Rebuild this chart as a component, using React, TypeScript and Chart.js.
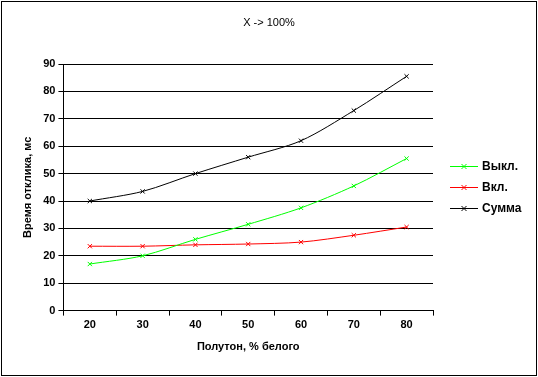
import React, { useEffect, useRef } from "react";
import { Chart, registerables } from "chart.js";

Chart.register(...registerables);

const categories = ["20", "30", "40", "50", "60", "70", "80"];
const seriesOff = [17, 20, 26, 31.5, 37.5, 45.5, 55.5];
const seriesOn = [23.5, 23.5, 24, 24.3, 25, 27.5, 30.5];
const seriesSum = [40, 43.5, 50, 56, 62, 73, 85.5];
const labels = ["Выкл.", "Вкл.", "Сумма"];
const colors = ["#00ff00", "#ff0000", "#000000"];
const yTicks = [0, 10, 20, 30, 40, 50, 60, 70, 80, 90];
const chartTitle = "X -> 100%";

const FONT = "'Liberation Sans', Arial, sans-serif";

export default function App() {
  const ref = useRef<HTMLCanvasElement>(null);
  useEffect(() => {
    document.body.style.margin = "0";
    const canvas = ref.current!;
    const borderPlugin = {
      id: "frame",
      beforeDraw(chart: any) {
        const ctx = chart.ctx;
        ctx.save();
        ctx.fillStyle = "#fff";
        ctx.fillRect(0, 0, chart.width, chart.height);
        ctx.restore();
      },
      afterDraw(chart: any) {
        const ctx = chart.ctx;
        ctx.save();
        ctx.strokeStyle = "#000";
        ctx.lineWidth = 1;
        ctx.strokeRect(1.5, 1.5, chart.width - 3, chart.height - 3);
        // title
        ctx.fillStyle = "#000";
        ctx.font = `11px ${FONT}`;
        ctx.textAlign = "center";
        ctx.textBaseline = "middle";
        ctx.fillText(chartTitle, 269, 23);
        // legend
        const x0 = 450;
        const y0 = 166;
        const step = 21;
        chart.data.datasets.forEach((ds: any, i: number) => {
          const y = y0 + i * step + 0.5;
          ctx.strokeStyle = ds.borderColor;
          ctx.beginPath();
          ctx.moveTo(x0, y);
          ctx.lineTo(x0 + 28, y);
          ctx.stroke();
          const cx = x0 + 14;
          ctx.beginPath();
          ctx.moveTo(cx - 2.5, y - 2.5);
          ctx.lineTo(cx + 2.5, y + 2.5);
          ctx.moveTo(cx + 2.5, y - 2.5);
          ctx.lineTo(cx - 2.5, y + 2.5);
          ctx.stroke();
          ctx.fillStyle = "#000";
          ctx.font = `bold 12px ${FONT}`;
          ctx.textBaseline = "middle";
          ctx.textAlign = "left";
          ctx.fillText(ds.label, x0 + 32, y);
        });
        ctx.restore();
      },
    };
    const mk = (i: number, data: number[]) => ({
      label: labels[i],
      data,
      borderColor: colors[i],
      backgroundColor: colors[i],
      borderWidth: 1,
      pointStyle: "crossRot",
      pointRadius: 3,
      pointBorderWidth: 1,
      tension: 0.3,
      fill: false,
    });
    const chart = new Chart(canvas, {
      type: "line",
      data: {
        labels: categories,
        datasets: [mk(0, seriesOff), mk(1, seriesOn), mk(2, seriesSum)],
      },
      plugins: [borderPlugin],
      options: {
        responsive: false,
        animation: false,
        layout: { padding: { left: 17, right: 105, top: 64, bottom: 19 } },
        plugins: {
          legend: { display: false },
          tooltip: { enabled: false },
          title: { display: false },
        },
        scales: {
          x: {
            offset: true,
            grid: {
              offset: true,
              drawOnChartArea: false,
              color: "#000",
              tickLength: 5,
            },
            border: { color: "#000" },
            ticks: {
              color: "#000",
              font: { family: FONT, size: 11, weight: "bold" },
              padding: 3,
            },
            title: {
              display: true,
              text: "Полутон, % белого",
              color: "#000",
              font: { family: FONT, size: 11, weight: "bold" },
              padding: { top: 6 },
            },
          },
          y: {
            min: 0,
            max: 90,
            afterBuildTicks: (scale: any) => {
              scale.ticks = yTicks.map((v) => ({ value: v }));
            },
            grid: { color: "#000", tickLength: 5 },
            border: { color: "#000" },
            ticks: {
              color: "#000",
              font: { family: FONT, size: 11, weight: "bold" },
              padding: 3,
            },
            title: {
              display: true,
              text: "Время отклика, мс",
              color: "#000",
              font: { family: FONT, size: 11, weight: "bold" },
              padding: { bottom: 6 },
            },
          },
        },
      },
    } as any);
    return () => chart.destroy();
  }, []);
  return <canvas ref={ref} width={538} height={377} style={{ display: "block", width: 538, height: 377 }} />;
}
